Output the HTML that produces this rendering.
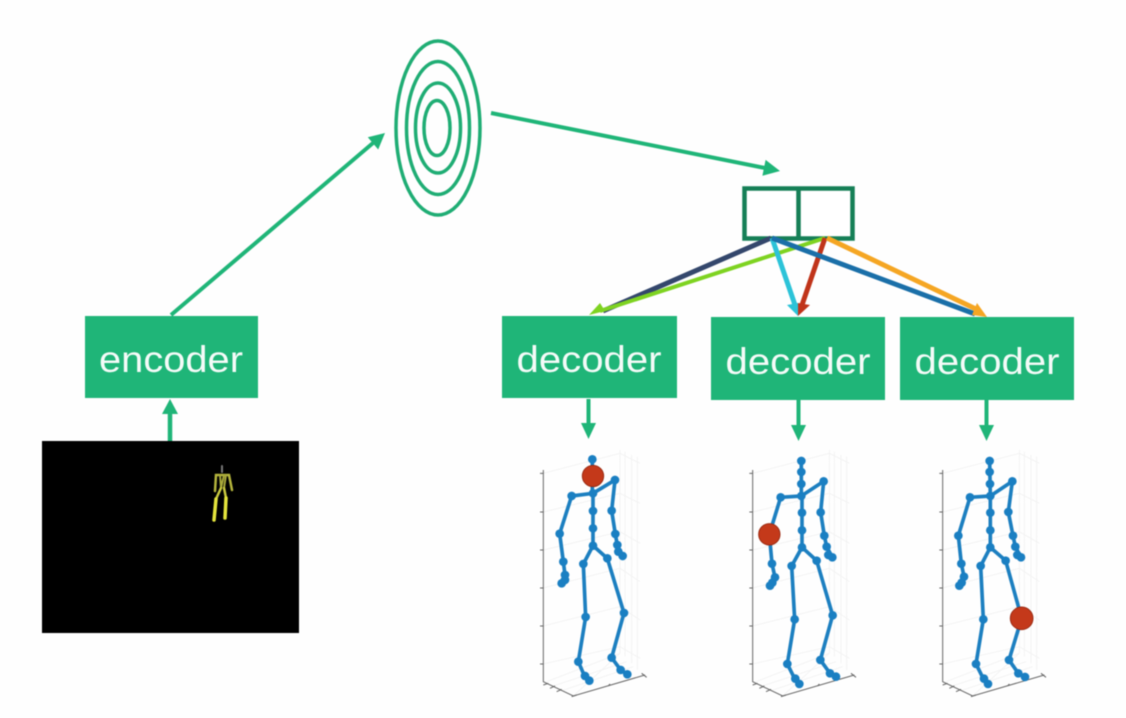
<!DOCTYPE html>
<html>
<head>
<meta charset="utf-8">
<style>
html,body{margin:0;padding:0;background:#fefefe;width:1126px;height:718px;overflow:hidden}
svg{display:block;filter:blur(.5px)}
text{font-family:"Liberation Sans",sans-serif;font-size:37px;fill:#f4fbf8;text-anchor:middle}
.grid{stroke:#efefef;stroke-width:2;fill:none}
.ax{stroke:#666;stroke-width:3;fill:none}
.bone{stroke:#1c7fc0;stroke-width:11;fill:none;stroke-linejoin:round;stroke-linecap:round}
.j{fill:#1a7fc2}
.j circle{r:13px}
.red{fill:#c4391a;stroke:#9c2c14;stroke-width:3}
</style>
</head>
<body>
<svg width="1126" height="718" viewBox="0 0 1126 718" xmlns="http://www.w3.org/2000/svg">
<defs>
<g id="axes">
  <path class="grid" d="M130 100L360 40M130 216L360 160M130 330L360 275M130 444L360 385M130 558L360 500M130 672L360 620"/>
  <path class="grid" d="M360 30V640M375 35V650M395 45V670M412 50V690M360 40L420 70M360 160L420 190M360 275L420 310M360 385L420 425M360 500L420 540M360 620L420 655"/>
  <path class="grid" d="M140 725L360 640M160 738L380 665M185 752L400 680M220 768L360 640"/>
  <path class="ax" d="M130 90V725L220 768L435 705"/>
  <path class="ax" stroke-width="2" d="M120 100H130M120 216H130M120 330H130M120 444H130M120 558H130M120 672H130M130 735L145 730M150 745L165 738M170 755L185 748M215 770L230 765M325 738L330 732M425 700L440 712"/>
</g>
</defs>

<!-- black video frame -->
<rect x="42" y="441" width="257" height="192" fill="#000"/>
<g fill="none" stroke-linecap="round">
  <path d="M222 466V472" stroke="#777" stroke-width="2"/>
  <path d="M215 491L216 475H229L232 490" stroke="#b4b43c" stroke-width="2.500"/>
  <path d="M220 475L221 488L224 475M224 488L226 475" stroke="#a8a83a" stroke-width="2"/>
  <path d="M221 488L216 499M224 488L226 498" stroke="#c8c840" stroke-width="2.500"/>
  <path d="M216 499L214 520" stroke="#e4e43c" stroke-width="3.500"/>
  <path d="M226 498L225 518" stroke="#e4e43c" stroke-width="3.500"/>
</g>

<!-- boxes -->
<rect x="85" y="316" width="173" height="82" fill="#1fb578"/>
<rect x="502" y="316" width="175" height="82" fill="#1fb578"/>
<rect x="711" y="317" width="174" height="83" fill="#1fb578"/>
<rect x="900" y="317" width="174" height="83" fill="#1fb578"/>
<text x="171" y="372" textLength="144" lengthAdjust="spacingAndGlyphs">encoder</text>
<text x="589" y="372" textLength="145" lengthAdjust="spacingAndGlyphs">decoder</text>
<text x="798" y="374" textLength="145" lengthAdjust="spacingAndGlyphs">decoder</text>
<text x="987" y="374" textLength="145" lengthAdjust="spacingAndGlyphs">decoder</text>

<!-- concentric ellipses -->
<g fill="none" stroke="#1fad74" stroke-width="3.500">
  <ellipse cx="438" cy="128" rx="42" ry="87"/>
  <ellipse cx="438" cy="128" rx="31.500" ry="66.500"/>
  <ellipse cx="438" cy="128" rx="22.500" ry="45"/>
  <ellipse cx="437" cy="128" rx="13" ry="27.500"/>
</g>

<!-- green arrows -->
<g fill="none" stroke="#1fb578">
  <path d="M171 315L373 143" stroke-width="4"/>
  <path d="M491 113L765 168" stroke-width="4"/>
  <path d="M170 441V412" stroke-width="4.500"/>
  <path d="M588.500 399V425" stroke-width="4"/>
  <path d="M798.500 400V427" stroke-width="4"/>
  <path d="M986.500 400V427" stroke-width="4"/>
</g>
<g fill="#1fb578">
  <path d="M385 133L378.200 149.500L367.800 137.300Z"/>
  <path d="M780 171L762.400 175.700L765.600 159.900Z"/>
  <path d="M170 399L178 414H162Z"/>
  <path d="M588.500 439L581 423H596Z"/>
  <path d="M798.500 441L791 425H806Z"/>
  <path d="M986.500 441L979 425H994Z"/>
</g>

<!-- split box -->
<g fill="#fff" stroke="#157f56" stroke-width="4.500">
  <rect x="744.500" y="188.500" width="108" height="50"/>
  <path d="M798.500 188.500V238.500" fill="none"/>
</g>

<!-- coloured arrows -->
<g fill="none">
  <path d="M771 238L603 311" stroke="#34476c" stroke-width="5"/>
  <path d="M825 238L600 311" stroke="#7ed321" stroke-width="4"/>
  <path d="M825 238L802 305" stroke="#c0341a" stroke-width="5"/>
  <path d="M772 238L795 305" stroke="#2cc3d8" stroke-width="5"/>
  <path d="M772 238L975 314" stroke="#1a6fa8" stroke-width="5"/>
  <path d="M827 238L978 310" stroke="#f5a623" stroke-width="5"/>
</g>
<path d="M589 315L600 303L605 311Z" fill="#7ed321"/>
<path d="M798 316L798 303L810 305Z" fill="#c0341a"/>
<path d="M798 316L787 305L798 303Z" fill="#2cc3d8"/>
<path d="M987 317L972 315L977 303Z" fill="#f5a623"/>

<!-- skeleton 1 -->
<g transform="translate(500 440) scale(.3333)">
  <use href="#axes"/>
  <path class="bone" d="M277 58V160M215 168L279 160L345 120L335 212L346 282L352 315L368 348M215 168L179 281L190 365L195 405L185 430M279 160V317L250 372L257 531L235 665L250 700L268 722M279 317L322 355L372 519L335 653L362 690L382 703"/>
  <g class="j">
    <circle cx="277" cy="58"/><circle cx="279" cy="160"/><circle cx="215" cy="168"/><circle cx="345" cy="120"/><circle cx="179" cy="281"/><circle cx="190" cy="365"/><circle cx="195" cy="405"/><circle cx="185" cy="430"/><circle cx="195" cy="420"/><circle cx="335" cy="212"/><circle cx="346" cy="282"/><circle cx="352" cy="315"/><circle cx="368" cy="348"/><circle cx="355" cy="335"/><circle cx="279" cy="213"/><circle cx="279" cy="265"/><circle cx="279" cy="317"/><circle cx="250" cy="372"/><circle cx="322" cy="355"/><circle cx="257" cy="531"/><circle cx="372" cy="519"/><circle cx="235" cy="665"/><circle cx="335" cy="653"/><circle cx="255" cy="708"/><circle cx="268" cy="722"/><circle cx="362" cy="690"/><circle cx="382" cy="703"/>
  </g>
  <circle class="red" cx="279" cy="108" r="32"/>
</g>

<!-- skeleton 2 -->
<g transform="translate(720 440) scale(.3333)">
  <use href="#axes" transform="translate(-32 0)"/>
  <path class="bone" d="M244 63L244 168M182 172L244 168L311 124L302 217L313 287L320 320L337 352M182 172L148 283L156 371L165 412L150 437M246 168V322L215 378L224 538L202 672L222 712L238 732M246 322L290 362L338 526L301 660L330 700L348 710"/>
  <g class="j">
    <circle cx="244" cy="63"/><circle cx="244" cy="96"/><circle cx="244" cy="132"/><circle cx="244" cy="168"/><circle cx="182" cy="172"/><circle cx="311" cy="124"/><circle cx="156" cy="371"/><circle cx="165" cy="412"/><circle cx="150" cy="437"/><circle cx="157" cy="428"/><circle cx="302" cy="217"/><circle cx="313" cy="287"/><circle cx="320" cy="320"/><circle cx="337" cy="352"/><circle cx="325" cy="345"/><circle cx="246" cy="218"/><circle cx="246" cy="271"/><circle cx="246" cy="322"/><circle cx="215" cy="378"/><circle cx="290" cy="362"/><circle cx="224" cy="538"/><circle cx="338" cy="526"/><circle cx="202" cy="672"/><circle cx="301" cy="660"/><circle cx="226" cy="716"/><circle cx="238" cy="732"/><circle cx="330" cy="700"/><circle cx="348" cy="710"/>
  </g>
  <circle class="red" cx="148" cy="283" r="32"/>
</g>

<!-- skeleton 3 -->
<g transform="translate(910 440) scale(.3333)">
  <use href="#axes" transform="translate(-32 0)"/>
  <path class="bone" d="M239 63L241 168M180 172L241 168L307 124L295 216L309 287L316 320L333 352M180 172L145 287L154 371L162 410L148 437M241 168V322L212 378L220 538L198 672L218 712L234 732M241 322L287 362L335 535L297 660L325 700L345 711"/>
  <g class="j">
    <circle cx="239" cy="63"/><circle cx="239" cy="96"/><circle cx="240" cy="132"/><circle cx="241" cy="168"/><circle cx="180" cy="172"/><circle cx="307" cy="124"/><circle cx="145" cy="287"/><circle cx="154" cy="371"/><circle cx="162" cy="410"/><circle cx="148" cy="437"/><circle cx="155" cy="428"/><circle cx="295" cy="216"/><circle cx="309" cy="287"/><circle cx="316" cy="320"/><circle cx="333" cy="352"/><circle cx="322" cy="345"/><circle cx="241" cy="218"/><circle cx="241" cy="271"/><circle cx="241" cy="322"/><circle cx="212" cy="378"/><circle cx="287" cy="362"/><circle cx="220" cy="538"/><circle cx="198" cy="672"/><circle cx="297" cy="660"/><circle cx="222" cy="716"/><circle cx="234" cy="732"/><circle cx="325" cy="700"/><circle cx="345" cy="711"/>
  </g>
  <circle class="red" cx="335" cy="535" r="34"/>
</g>
</svg>
</body>
</html>
